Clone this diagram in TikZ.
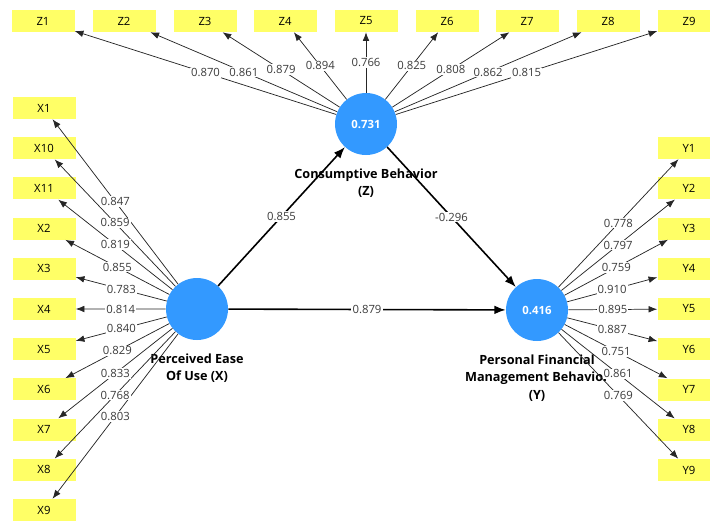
\documentclass[tikz,border=0pt]{standalone}
\usepackage{fontspec}
\setmainfont{Open Sans}
\usetikzlibrary{arrows.meta}
\definecolor{lvblue}{RGB}{51,153,255}
\definecolor{mvyellow}{RGB}{255,255,102}
\definecolor{lbltext}{RGB}{60,60,60}
\begin{document}
\begin{tikzpicture}[x=0.75pt,y=-0.75pt,
  ind/.style={fill=mvyellow, minimum width=47.25pt, minimum height=16.5pt, inner sep=0pt, font=\fontsize{8.5}{10}\selectfont},
  lv/.style={circle, fill=lvblue, minimum size=46.5pt, inner sep=0pt, text=white, font=\bfseries\fontsize{8.5}{10}\selectfont},
  lvname/.style={align=center, font=\bfseries\fontsize{9.5}{13}\selectfont},
  load/.style={-{Latex[length=6.5pt,width=5pt]}, line width=0.55pt, black!85},
  struct/.style={-{Latex[length=8.5pt,width=6.5pt]}, line width=1.2pt},
  lbl/.style={fill=white, inner sep=0.8pt, font=\fontsize{8.5}{10}\selectfont, text=lbltext}]
\useasboundingbox (0,0) rectangle (710,521);
\clip (0,0) rectangle (710,521);
% indicators
\foreach \i/\x in {1/43,2/124,3/205,4/285,5/366,6/447,7/527,8/608,9/689}
  \node[ind] (z\i) at (\x,21) {Z\i};
\foreach \n [count=\k from 0] in {1,10,11,2,3,4,5,6,7,8,9}
  \node[ind] (x\n) at (44,108+40.2*\k) {X\n};
\foreach \i in {1,...,9}
  \node[ind] (y\i) at (689,148+40.25*\i-40.25) {Y\i};
% construct names
\node[lvname] (nz) at (366,183) {Consumptive Behavior\\(Z)};
\node[lvname] (nx) at (197,368) {Perceived Ease\\Of Use (X)};
\node[lvname] (ny) at (537,378) {Personal Financial\\Management Behavior\\(Y)};
% constructs
\node[lv] (Z) at (366,124) {0.731};
\node[lv] (X) at (197,309) {};
\node[lv] (Y) at (537,310) {0.416};
% loadings
\foreach \i in {1,...,9}
  \draw[load] (Z) -- coordinate[pos=0.5] (lz\i) (z\i);
\foreach \n in {1,10,11,2,3,4,5,6,7,8,9}
  \draw[load] (X) -- coordinate[pos=0.5] (lx\n) (x\n);
\foreach \i in {1,...,9}
  \draw[load] (Y) -- coordinate[pos=0.5] (ly\i) (y\i);
% structural paths
\draw[struct] (X) -- coordinate[pos=0.5] (sxz) (Z);
\draw[struct] (Z) -- coordinate[pos=0.5] (szy) (Y);
\draw[struct] (X) -- coordinate[pos=0.5] (sxy) (Y);
% labels
\foreach \i/\v in {1/0.870,2/0.861,3/0.879,4/0.894,5/0.766,6/0.825,7/0.808,8/0.862,9/0.815}
  \node[lbl] at (lz\i) {\v};
\foreach \n/\v in {1/0.847,10/0.859,11/0.819,2/0.855,3/0.783,4/0.814,5/0.840,6/0.829,7/0.833,8/0.768,9/0.803}
  \node[lbl] at (lx\n) {\v};
\foreach \i/\v in {1/0.778,2/0.797,3/0.759,4/0.910,5/0.895,6/0.887,7/0.751,8/0.861,9/0.769}
  \node[lbl] at (ly\i) {\v};
\node[lbl] at (sxz) {0.855};
\node[lbl] at (szy) {-0.296};
\node[lbl] at (sxy) {0.879};
\end{tikzpicture}
\end{document}
